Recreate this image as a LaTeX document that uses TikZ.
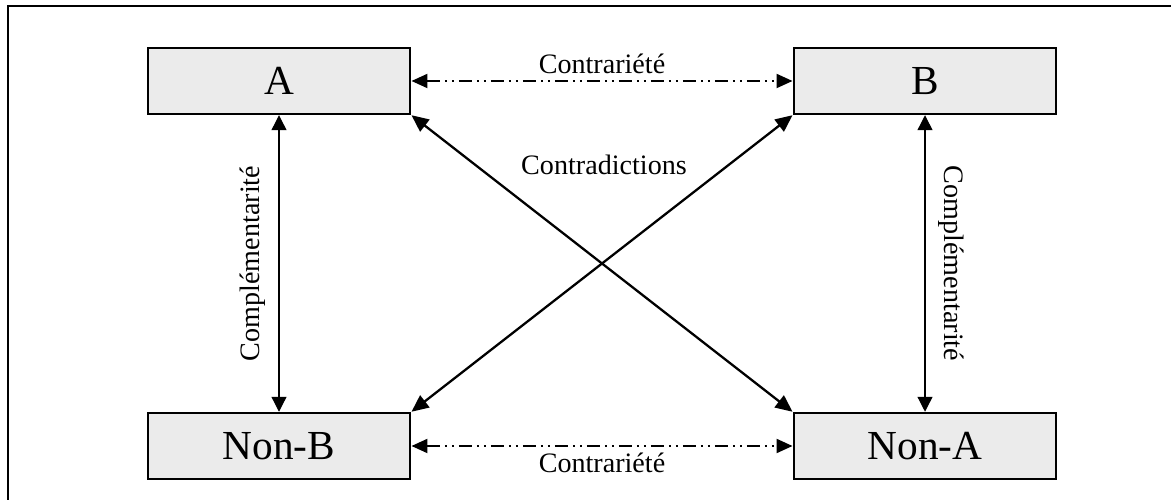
\documentclass[tikz,border=0pt]{standalone}
\usepackage{fontspec}
\setmainfont{Liberation Serif}
\usepackage{tikz}
\usetikzlibrary{arrows.meta}

\begin{document}
\begin{tikzpicture}[
  term/.style={draw, line width=1.4pt, fill=gray!16, minimum width=5.25cm,
    minimum height=1.32cm, inner sep=0pt, font=\fontsize{23.5}{28}\selectfont},
  lbl/.style={font=\fontsize{16}{19}\selectfont},
  sidelbl/.style={lbl, midway, above, inner sep=0.26cm},
  contra/.style={line width=1.2pt, {Triangle[length=0.32cm, width=0.28cm]}-{Triangle[length=0.32cm, width=0.28cm]},
    dash pattern=on 0.26cm off 0.1cm on 0.04cm off 0.1cm on 0.04cm off 0.1cm},
  contrad/.style={line width=1.3pt, {Triangle[length=0.34cm, width=0.3cm]}-{Triangle[length=0.34cm, width=0.3cm]}},
  compl/.style={line width=0.7pt, {Triangle[length=0.3cm, width=0.3cm]}-{Triangle[length=0.3cm, width=0.3cm]}}
]
\useasboundingbox (0,0) rectangle (23.42,10);
%%% frame
\draw[line width=1.3pt] (0.16,0) -- (0.16,9.88) -- (23.42,9.88);
%%% the four terms
\node[term] (A) at (5.58,8.38) {A};
\node[term] (B) at (18.5,8.38) {B};
\node[term] (nonB) at (5.58,1.08) {Non-B};
\node[term] (nonA) at (18.5,1.08) {Non-A};
%%% contrariety
\draw[contra] (A) -- node[lbl, above] {Contrariété} (B);
\draw[contra] (nonB) -- node[lbl, below] {Contrariété} (nonA);
%%% contradictions
\draw[contrad] (A.south east) -- (nonA.north west);
\draw[contrad] (B.south west) -- (nonB.north east);
\node[lbl] (contrad) at (12.08,6.7) {Contradictions};
%%% complementarity
\draw[compl] (A) -- node[sidelbl, rotate=90] {Complémentarité} (nonB);
\draw[compl] (B) -- node[sidelbl, rotate=-90] {Complémentarité} (nonA);
\end{tikzpicture}
\end{document}
